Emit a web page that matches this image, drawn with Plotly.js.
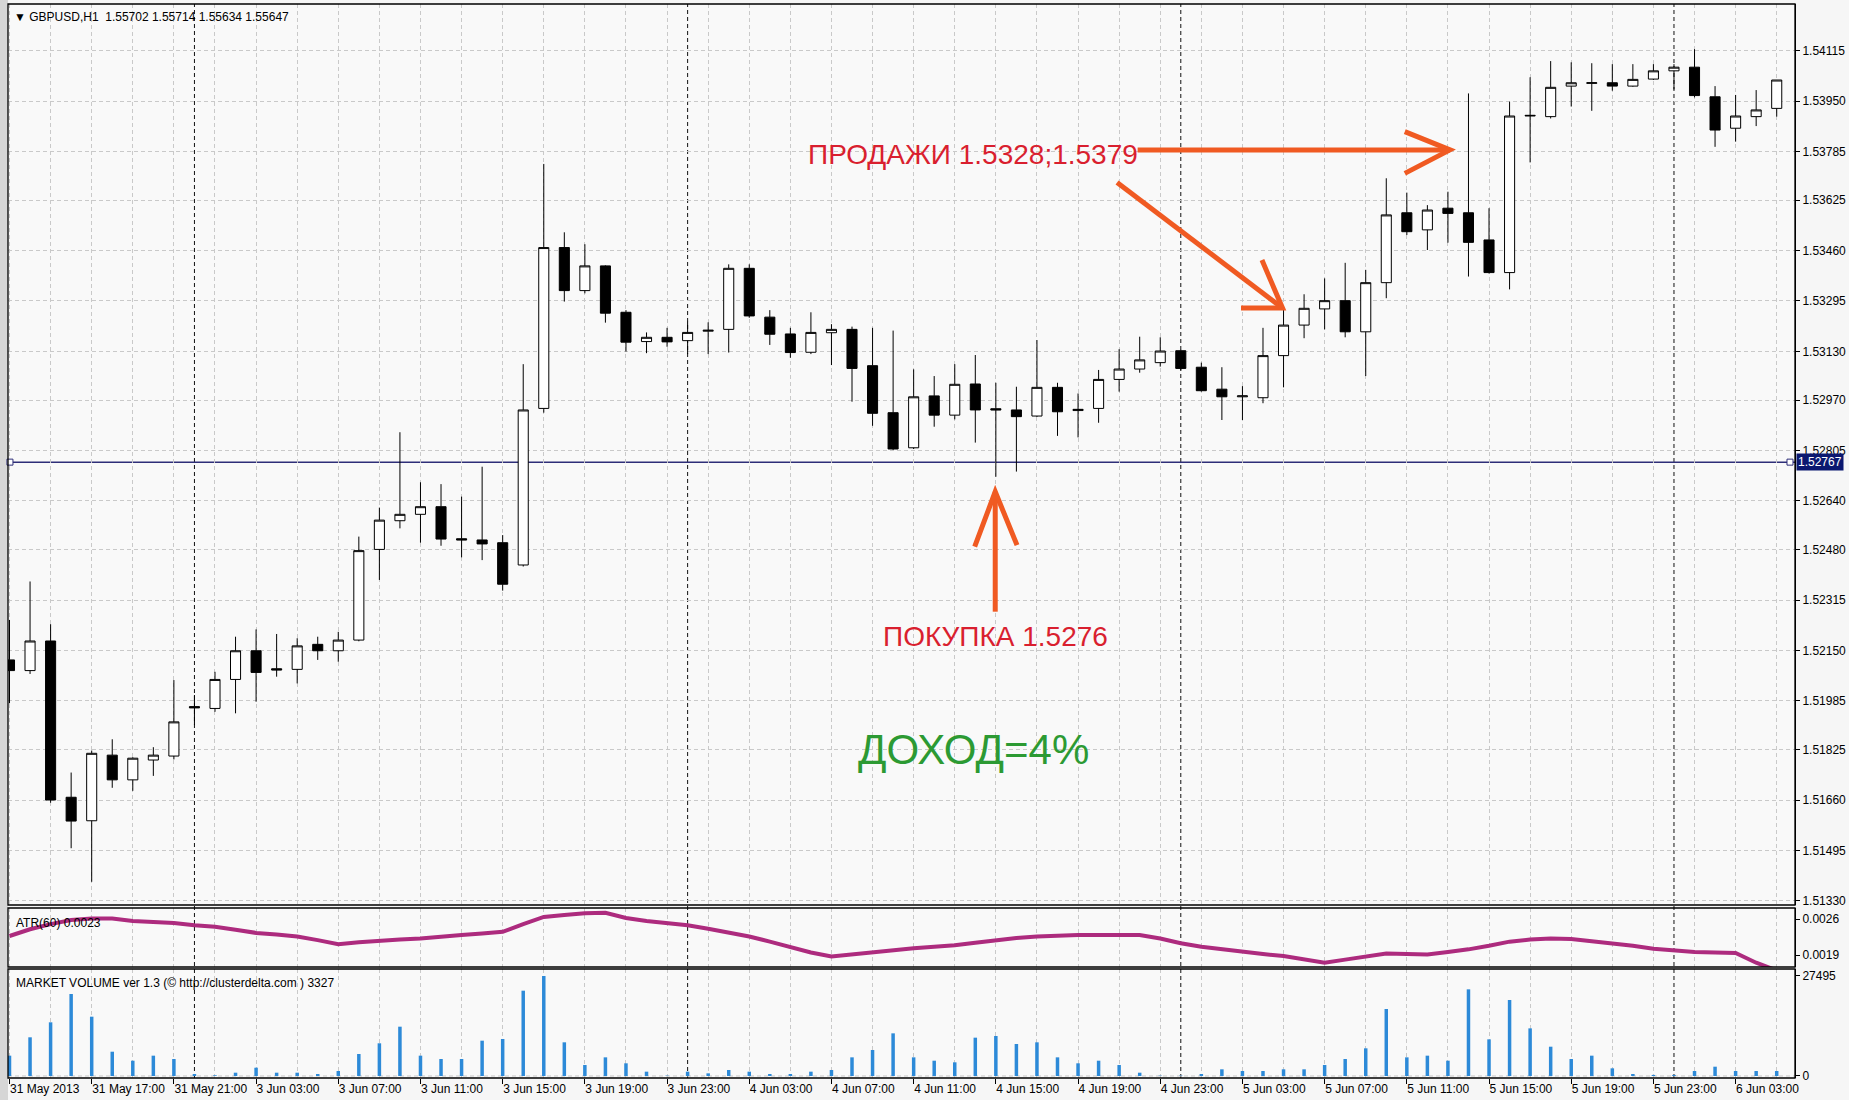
<!DOCTYPE html>
<html><head><meta charset="utf-8">
<script src="https://cdn.plot.ly/plotly-3.0.1.min.js"></script>
<style>html,body{margin:0;padding:0;background:#f6f6f6;}#chart{width:1849px;height:1100px;}</style>
</head><body><div id="chart"></div>
<script>
// ---- data (GBPUSD H1, 31 May 13:00 .. 6 Jun 05:00) ----
const openP  = [1.52119,1.52084,1.52181,1.51669,1.51592,1.51807,1.51726,1.51791,1.51804,1.51966,
1.51960,1.52055,1.52149,1.52090,1.52088,1.52170,1.52149,1.52184,1.52481,1.52575,
1.52596,1.52621,1.52516,1.52512,1.52503,1.52430,1.52943,1.53470,1.53329,1.53410,
1.53258,1.53162,1.53176,1.53165,1.53196,1.53202,1.53402,1.53242,1.53187,1.53127,
1.53191,1.53202,1.53083,1.52929,1.52814,1.52984,1.52921,1.53023,1.52942,1.52938,
1.52918,1.53012,1.52936,1.52943,1.53038,1.53072,1.53093,1.53132,1.53078,1.53006,
1.52981,1.52978,1.53116,1.53216,1.53269,1.53296,1.53194,1.53355,1.53584,1.53528,
1.53599,1.53584,1.53495,1.53388,1.53901,1.53899,1.53999,1.54008,1.54010,1.53999,
1.54022,1.54049,1.54061,1.53964,1.53861,1.53899,1.53926];
const highP  = [1.52250,1.52376,1.52236,1.51750,1.51822,1.51859,1.51800,1.51833,1.52053,1.52004,
1.52080,1.52195,1.52219,1.52204,1.52190,1.52195,1.52211,1.52523,1.52618,1.52865,
1.52701,1.52695,1.52654,1.52752,1.52528,1.53088,1.53744,1.53520,1.53481,1.53412,
1.53265,1.53192,1.53207,1.53227,1.53225,1.53415,1.53415,1.53265,1.53207,1.53258,
1.53219,1.53211,1.53207,1.53198,1.53071,1.53049,1.53088,1.53118,1.53027,1.53014,
1.53167,1.53027,1.52992,1.53069,1.53137,1.53178,1.53176,1.53135,1.53093,1.53078,
1.53016,1.53207,1.53274,1.53317,1.53369,1.53420,1.53397,1.53697,1.53650,1.53609,
1.53653,1.53975,1.53599,1.53948,1.54028,1.54081,1.54077,1.54074,1.54071,1.54071,
1.54071,1.54071,1.54120,1.53999,1.53970,1.53986,1.54019];
const lowP   = [1.51977,1.52073,1.51651,1.51502,1.51392,1.51700,1.51690,1.51739,1.51793,1.51906,
1.51949,1.51944,1.51982,1.52064,1.52042,1.52119,1.52113,1.52180,1.52381,1.52550,
1.52503,1.52493,1.52455,1.52446,1.52346,1.52425,1.52929,1.53293,1.53320,1.53224,
1.53129,1.53124,1.53145,1.53121,1.53121,1.53126,1.53240,1.53151,1.53109,1.53121,
1.53085,1.52965,1.52886,1.52807,1.52810,1.52883,1.52907,1.52831,1.52719,1.52736,
1.52915,1.52853,1.52848,1.52896,1.52998,1.53060,1.53080,1.53068,1.52998,1.52905,
1.52905,1.52960,1.53012,1.53173,1.53202,1.53176,1.53049,1.53304,1.53511,1.53462,
1.53486,1.53375,1.53385,1.53333,1.53749,1.53893,1.53932,1.53918,1.53984,1.53997,
1.54019,1.53988,1.53962,1.53800,1.53817,1.53868,1.53899];
const closeP = [1.52084,1.52181,1.51660,1.51591,1.51813,1.51726,1.51797,1.51807,1.51916,1.51962,
1.52055,1.52149,1.52078,1.52086,1.52165,1.52149,1.52184,1.52477,1.52577,1.52596,
1.52621,1.52515,1.52512,1.52499,1.52367,1.52938,1.53470,1.53329,1.53410,1.53255,
1.53160,1.53176,1.53161,1.53192,1.53199,1.53402,1.53246,1.53186,1.53126,1.53192,
1.53202,1.53074,1.52927,1.52810,1.52981,1.52921,1.53022,1.52938,1.52938,1.52916,
1.53012,1.52932,1.52940,1.53038,1.53072,1.53102,1.53131,1.53074,1.53001,1.52981,
1.52984,1.53116,1.53216,1.53271,1.53296,1.53194,1.53355,1.53577,1.53522,1.53593,
1.53582,1.53487,1.53388,1.53901,1.53903,1.53995,1.54010,1.54010,1.53999,1.54021,
1.54049,1.54061,1.53968,1.53855,1.53901,1.53921,1.54019];
const atr60 = [0.00227,0.00240,0.00250,0.00258,0.00261,0.00261,0.00256,0.00254,0.00252,0.00248,
0.00245,0.00239,0.00233,0.00230,0.00226,0.00219,0.00211,0.00215,0.00218,0.00220,
0.00222,0.00226,0.00229,0.00232,0.00235,0.00250,0.00264,0.00268,0.00271,0.00272,
0.00262,0.00256,0.00252,0.00248,0.00241,0.00234,0.00226,0.00216,0.00206,0.00195,
0.00187,0.00191,0.00196,0.00200,0.00203,0.00206,0.00209,0.00214,0.00219,0.00223,
0.00226,0.00228,0.00229,0.00229,0.00229,0.00229,0.00222,0.00213,0.00206,0.00201,
0.00196,0.00192,0.00188,0.00181,0.00175,0.00181,0.00187,0.00193,0.00192,0.00191,
0.00196,0.00201,0.00208,0.00216,0.00220,0.00222,0.00221,0.00217,0.00213,0.00208,
0.00202,0.00199,0.00196,0.00195,0.00194,0.00175,0.00160];
const volume = [5590,10640,14760,22550,16310,6680,4210,5590,4670,550,
200,910,2290,910,910,550,1370,6050,8990,13560,
5590,4670,4670,9710,10170,23460,27495,9260,3020,5130,
3490,1190,100,1190,730,1650,1190,550,550,1190,
1650,5130,7150,11730,5130,4210,3760,10540,11000,8800,
9260,5130,3490,4210,3020,910,100,100,550,1840,
1370,1370,1840,1840,3020,4670,7610,18420,5130,5590,
4210,23830,10080,20900,13100,8060,4670,5590,2110,550,
300,300,1370,2560,1370,1370,1370];
const tickIdx  = [0,4,8,12,16,20,24,28,32,36,40,44,48,52,56,60,64,68,72,76,80,84];
const tickText = ["31 May 2013","31 May 17:00","31 May 21:00","3 Jun 03:00","3 Jun 07:00","3 Jun 11:00",
"3 Jun 15:00","3 Jun 19:00","3 Jun 23:00","4 Jun 03:00","4 Jun 07:00","4 Jun 11:00","4 Jun 15:00",
"4 Jun 19:00","4 Jun 23:00","5 Jun 03:00","5 Jun 07:00","5 Jun 11:00","5 Jun 15:00","5 Jun 19:00",
"5 Jun 23:00","6 Jun 03:00"];
const priceTicks = [1.51330,1.51495,1.51660,1.51825,1.51985,1.52150,1.52315,1.52480,1.52640,
1.52805,1.52970,1.53130,1.53295,1.53460,1.53625,1.53785,1.53950,1.54115];
const atrTicks = [0.0019,0.0026];
const volTicks = [0,27495];
const daySeparators = [9,33,57,81];
const currentPrice = 1.52767;
const buyPrice = 1.5276;
const sellPrices = [1.5328,1.5379];

// ---- layout helpers ----
const idx = openP.map((_, i) => i);
const FONT = '"Liberation Sans", Arial, sans-serif';
const GRID = '#c9c9c9';
const ORANGE = '#f05a22';
const xr = [-0.073, 86.89];

const traces = [
  {type:'candlestick', x:idx, open:openP, high:highP, low:lowP, close:closeP, xaxis:'x', yaxis:'y',
   increasing:{line:{color:'#000', width:1}, fillcolor:'#ffffff'},
   decreasing:{line:{color:'#000', width:1}, fillcolor:'#000000'},
   whiskerwidth:0, hoverinfo:'skip', showlegend:false},
  {type:'scatter', mode:'lines', x:idx, y:atr60, xaxis:'x', yaxis:'y2',
   line:{color:'#ad2b7e', width:4}, hoverinfo:'skip', showlegend:false},
  {type:'bar', x:idx, y:volume, xaxis:'x', yaxis:'y3', width:0.17,
   marker:{color:'#2d8ad8', line:{width:0}}, hoverinfo:'skip', showlegend:false}
];

const shapes = [];
// left window strip
shapes.push({type:'rect', xref:'paper', yref:'paper', x0:-0.0046, x1:0, y0:-0.03, y1:1.01, fillcolor:'#d6d6d6', line:{width:0}, layer:'below'});
// day separators
daySeparators.forEach(d => shapes.push({type:'line', xref:'x', yref:'paper', x0:d, x1:d, y0:0, y1:1,
  line:{color:'#111', width:1, dash:'4px,3px'}, layer:'below'}));
// volume zero line
shapes.push({type:'line', xref:'paper', yref:'y3', x0:0, x1:1, y0:volTicks[0], y1:volTicks[0], line:{color:GRID, width:1, dash:'4px,3px'}, layer:'below'});
// current price line
shapes.push({type:'line', xref:'paper', yref:'y', x0:0, x1:1, y0:currentPrice, y1:currentPrice, line:{color:'#2e2e78', width:1.5}, layer:'below'});
[0.0011, 0.9972].forEach(px => shapes.push({type:'rect', xref:'paper', yref:'y', xsizemode:'pixel', ysizemode:'pixel',
  xanchor:px, yanchor:currentPrice, x0:-3, x1:3, y0:-3, y1:3, fillcolor:'#ffffff', line:{color:'#2e2e78', width:1}}));
// panel borders
['y domain','y2 domain','y3 domain'].forEach(r => shapes.push({type:'rect', xref:'paper', yref:r, x0:0, x1:1, y0:0, y1:1,
  line:{color:'#000', width:1.3}, fillcolor:'rgba(0,0,0,0)', layer:'above'}));
// arrows (annotation drawing)
const arrowLine = {color:ORANGE, width:5};
shapes.push({type:'path', xref:'x', yref:'y', path:`M 54.9,${sellPrices[1]} L 70.1,${sellPrices[1]}`, line:arrowLine});
shapes.push({type:'path', xref:'x', yref:'y', path:`M 67.9,1.53850 L 70.1,${sellPrices[1]} L 67.9,1.53713`, line:arrowLine});
shapes.push({type:'path', xref:'x', yref:'y', path:`M 53.9,1.53683 L 61.95,1.53272`, line:arrowLine});
shapes.push({type:'path', xref:'x', yref:'y', path:`M 60.95,1.53429 L 61.95,1.53272 L 59.93,1.53272`, line:arrowLine});
shapes.push({type:'path', xref:'x', yref:'y', path:`M 47.97,1.52277 L 47.97,1.52670`, line:arrowLine});
shapes.push({type:'path', xref:'x', yref:'y', path:`M 46.97,1.52490 L 47.97,1.52670 L 49.03,1.52495`, line:arrowLine});

const annotations = [
  {xref:'paper', yref:'paper', x:0.0022, y:0.9882, xanchor:'left', yanchor:'middle', showarrow:false,
   text:'▼ GBPUSD,H1  1.55702 1.55714 1.55634 1.55647', font:{family:FONT, size:12, color:'#000'}},
  {xref:'paper', yref:'paper', x:0.0035, y:0.1443, xanchor:'left', yanchor:'middle', showarrow:false,
   text:'ATR(60) 0.0023', font:{family:FONT, size:12, color:'#000'}},
  {xref:'paper', yref:'paper', x:0.0035, y:0.0885, xanchor:'left', yanchor:'middle', showarrow:false,
   text:'MARKET VOLUME ver 1.3 (© http://clusterdelta.com ) 3327', font:{family:FONT, size:12, color:'#000'}},
  {xref:'paper', yref:'y', x:1, xshift:1, y:currentPrice, xanchor:'left', yanchor:'middle', showarrow:false,
   text:currentPrice.toFixed(5), bgcolor:'#0b1870', borderpad:1, font:{family:FONT, size:12, color:'#ffffff'}},
  {xref:'x', yref:'y', x:46.9, y:1.53775, xanchor:'center', yanchor:'middle', showarrow:false,
   text:'ПРОДАЖИ ' + sellPrices[0].toFixed(4) + ';' + sellPrices[1].toFixed(4), font:{family:FONT, size:28, color:'#d91f2f'}},
  {xref:'x', yref:'y', x:47.97, y:1.52197, xanchor:'center', yanchor:'middle', showarrow:false,
   text:'ПОКУПКА ' + buyPrice.toFixed(4), font:{family:FONT, size:28, color:'#d91f2f'}},
  {xref:'x', yref:'y', x:46.9, y:1.51826, xanchor:'center', yanchor:'middle', showarrow:false,
   text:'ДОХОД=4%', font:{family:FONT, size:42, color:'#2c9a33'}}
];

const yCommon = {side:'right', anchor:'x', showline:true, linecolor:'#000', linewidth:1, ticks:'outside', ticklen:4,
  tickcolor:'#000', zeroline:false, fixedrange:true, tickfont:{family:FONT, size:12, color:'#000'}};

const layout = {
  width:1849, height:1100,
  margin:{l:8, r:54, t:4, b:22},
  paper_bgcolor:'#f6f6f6', plot_bgcolor:'#f9f9f9',
  showlegend:false, hovermode:false, dragmode:false,
  xaxis:{anchor:'y3', range:xr, showline:false, zeroline:false, ticks:'outside', ticklen:5, tickcolor:'#000',
    tickmode:'array', tickvals:tickIdx, ticktext:tickText, ticklabelposition:'outside right',
    tickfont:{family:FONT, size:12, color:'#000'},
    showgrid:true, gridcolor:GRID, griddash:'4px,3px', gridwidth:1,
    minor:{tickmode:'linear', tick0:0, dtick:2, showgrid:true, gridcolor:GRID, griddash:'4px,3px', ticks:''},
    rangeslider:{visible:false}, fixedrange:true},
  yaxis:Object.assign({}, yCommon, {domain:[0.16108,1], range:[1.51316,1.54268], tickmode:'array', tickvals:priceTicks,
    ticktext:priceTicks.map(v => v.toFixed(5)), showgrid:true, gridcolor:GRID, griddash:'4px,3px'}),
  yaxis2:Object.assign({}, yCommon, {domain:[0.10335,0.15829], range:[0.001667,0.002814], tickmode:'array', tickvals:atrTicks,
    ticktext:atrTicks.map(v => v.toFixed(4)), showgrid:false}),
  yaxis3:Object.assign({}, yCommon, {domain:[0,0.10149], range:[-550,29420], tickmode:'array', tickvals:volTicks,
    ticktext:volTicks.map(v => String(v)), showgrid:false}),
  shapes:shapes, annotations:annotations
};

Plotly.newPlot('chart', traces, layout, {displayModeBar:false, staticPlot:true});
</script></body></html>
